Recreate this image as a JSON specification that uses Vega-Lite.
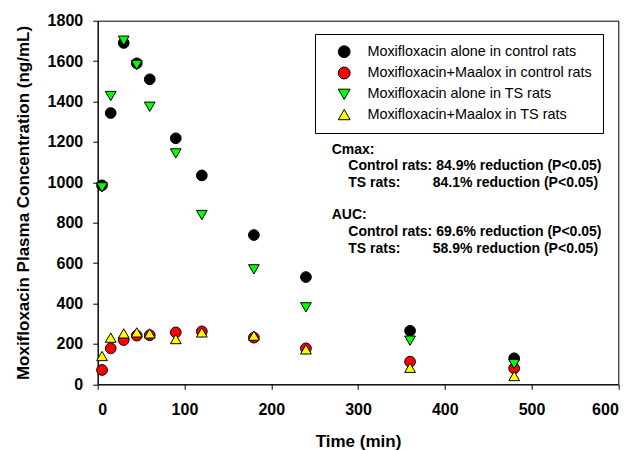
{
  "$schema": "https://vega.github.io/schema/vega-lite/v6.json",
  "width": 520.6,
  "height": 363.6,
  "autosize": {"type": "none"},
  "padding": {"left": 97.7, "top": 20.7, "right": 15.7, "bottom": 65.7},
  "background": "white",
  "config": {
    "font": "Liberation Sans",
    "view": {"stroke": "black", "strokeWidth": 1},
    "axis": {
      "grid": false,
      "domainColor": "black",
      "domainWidth": 1,
      "tickColor": "black",
      "tickWidth": 1,
      "tickSize": 5,
      "labelFont": "Liberation Sans",
      "labelFontSize": 16,
      "labelFontWeight": "bold",
      "labelColor": "black",
      "titleFont": "Liberation Sans",
      "titleFontSize": 17,
      "titleFontWeight": "bold",
      "titleColor": "black"
    },
    "legend": {
      "labelFont": "Liberation Sans",
      "labelFontSize": 14.4,
      "labelColor": "black",
      "labelLimit": 400
    }
  },
  "layer": [
    {
      "data": {
        "values": [
          {"series": "Moxifloxacin alone in control rats", "t": 5, "c": 985},
          {"series": "Moxifloxacin alone in control rats", "t": 15, "c": 1343},
          {"series": "Moxifloxacin alone in control rats", "t": 30, "c": 1690},
          {"series": "Moxifloxacin alone in control rats", "t": 45, "c": 1589},
          {"series": "Moxifloxacin alone in control rats", "t": 60, "c": 1510},
          {"series": "Moxifloxacin alone in control rats", "t": 90, "c": 1218},
          {"series": "Moxifloxacin alone in control rats", "t": 120, "c": 1034},
          {"series": "Moxifloxacin alone in control rats", "t": 180, "c": 739},
          {"series": "Moxifloxacin alone in control rats", "t": 240, "c": 531},
          {"series": "Moxifloxacin alone in control rats", "t": 360, "c": 265},
          {"series": "Moxifloxacin alone in control rats", "t": 480, "c": 129},
          {"series": "Moxifloxacin+Maalox in control rats", "t": 5, "c": 71},
          {"series": "Moxifloxacin+Maalox in control rats", "t": 15, "c": 178},
          {"series": "Moxifloxacin+Maalox in control rats", "t": 30, "c": 219},
          {"series": "Moxifloxacin+Maalox in control rats", "t": 45, "c": 241},
          {"series": "Moxifloxacin+Maalox in control rats", "t": 60, "c": 243},
          {"series": "Moxifloxacin+Maalox in control rats", "t": 90, "c": 257},
          {"series": "Moxifloxacin+Maalox in control rats", "t": 120, "c": 262},
          {"series": "Moxifloxacin+Maalox in control rats", "t": 180, "c": 231},
          {"series": "Moxifloxacin+Maalox in control rats", "t": 240, "c": 178},
          {"series": "Moxifloxacin+Maalox in control rats", "t": 360, "c": 112},
          {"series": "Moxifloxacin+Maalox in control rats", "t": 480, "c": 79},
          {"series": "Moxifloxacin alone in TS rats", "t": 5, "c": 975},
          {"series": "Moxifloxacin alone in TS rats", "t": 15, "c": 1427},
          {"series": "Moxifloxacin alone in TS rats", "t": 30, "c": 1701},
          {"series": "Moxifloxacin alone in TS rats", "t": 45, "c": 1581},
          {"series": "Moxifloxacin alone in TS rats", "t": 60, "c": 1374},
          {"series": "Moxifloxacin alone in TS rats", "t": 90, "c": 1143},
          {"series": "Moxifloxacin alone in TS rats", "t": 120, "c": 838},
          {"series": "Moxifloxacin alone in TS rats", "t": 180, "c": 569},
          {"series": "Moxifloxacin alone in TS rats", "t": 240, "c": 381},
          {"series": "Moxifloxacin alone in TS rats", "t": 360, "c": 216},
          {"series": "Moxifloxacin alone in TS rats", "t": 480, "c": 100},
          {"series": "Moxifloxacin+Maalox in TS rats", "t": 5, "c": 140},
          {"series": "Moxifloxacin+Maalox in TS rats", "t": 15, "c": 231},
          {"series": "Moxifloxacin+Maalox in TS rats", "t": 30, "c": 252},
          {"series": "Moxifloxacin+Maalox in TS rats", "t": 45, "c": 257},
          {"series": "Moxifloxacin+Maalox in TS rats", "t": 60, "c": 252},
          {"series": "Moxifloxacin+Maalox in TS rats", "t": 90, "c": 224},
          {"series": "Moxifloxacin+Maalox in TS rats", "t": 120, "c": 257},
          {"series": "Moxifloxacin+Maalox in TS rats", "t": 180, "c": 241},
          {"series": "Moxifloxacin+Maalox in TS rats", "t": 240, "c": 173},
          {"series": "Moxifloxacin+Maalox in TS rats", "t": 360, "c": 82},
          {"series": "Moxifloxacin+Maalox in TS rats", "t": 480, "c": 41}
        ]
      },
      "mark": {"type": "point", "filled": true, "opacity": 1, "stroke": "black", "strokeWidth": 1, "size": 115},
      "encoding": {
        "x": {
          "field": "t", "type": "quantitative",
          "scale": {"domain": [0, 600], "nice": false, "zero": false},
          "axis": {"values": [0, 100, 200, 300, 400, 500, 600], "format": "d", "title": "Time (min)", "labelPadding": 12.5, "titlePadding": 16}
        },
        "y": {
          "field": "c", "type": "quantitative",
          "scale": {"domain": [0, 1800], "nice": false},
          "axis": {"values": [0, 200, 400, 600, 800, 1000, 1200, 1400, 1600, 1800], "format": "d", "title": "Moxifloxacin Plasma Concentration (ng/mL)", "labelPadding": 10, "titlePadding": 15}
        },
        "color": {
          "field": "series", "type": "nominal",
          "scale": {
            "domain": ["Moxifloxacin alone in control rats", "Moxifloxacin+Maalox in control rats", "Moxifloxacin alone in TS rats", "Moxifloxacin+Maalox in TS rats"],
            "range": ["#000000", "#ff0000", "#00ff00", "#ffff00"]
          },
          "legend": {
            "title": null, "orient": "none", "legendX": 217.3, "legendY": 13.3,
            "strokeColor": "black", "padding": 10.5,
            "symbolSize": 140, "symbolOffset": 11.5, "labelOffset": 16,
            "rowPadding": 4.3, "symbolStrokeColor": "black", "symbolStrokeWidth": 1
          }
        },
        "shape": {
          "field": "series", "type": "nominal",
          "scale": {
            "domain": ["Moxifloxacin alone in control rats", "Moxifloxacin+Maalox in control rats", "Moxifloxacin alone in TS rats", "Moxifloxacin+Maalox in TS rats"],
            "range": ["circle", "circle", "triangle-down", "triangle-up"]
          },
          "legend": null
        }
      }
    },
    {
      "data": {
        "values": [
          {"label": "Cmax:", "t": 269.7, "c": 1160},
          {"label": "Control rats: 84.9% reduction (P<0.05)", "t": 288.8, "c": 1082},
          {"label": "TS rats:", "t": 288.8, "c": 998},
          {"label": "84.1% reduction (P<0.05)", "t": 386.1, "c": 998},
          {"label": "AUC:", "t": 269.7, "c": 838},
          {"label": "Control rats: 69.6% reduction (P<0.05)", "t": 288.8, "c": 752},
          {"label": "TS rats:", "t": 288.8, "c": 668},
          {"label": "58.9% reduction (P<0.05)", "t": 386.1, "c": 668}
        ]
      },
      "mark": {"type": "text", "align": "left", "baseline": "middle", "font": "Liberation Sans", "fontSize": 14, "fontWeight": "bold", "color": "black"},
      "encoding": {
        "x": {"field": "t", "type": "quantitative"},
        "y": {"field": "c", "type": "quantitative"},
        "text": {"field": "label"}
      }
    }
  ]
}
